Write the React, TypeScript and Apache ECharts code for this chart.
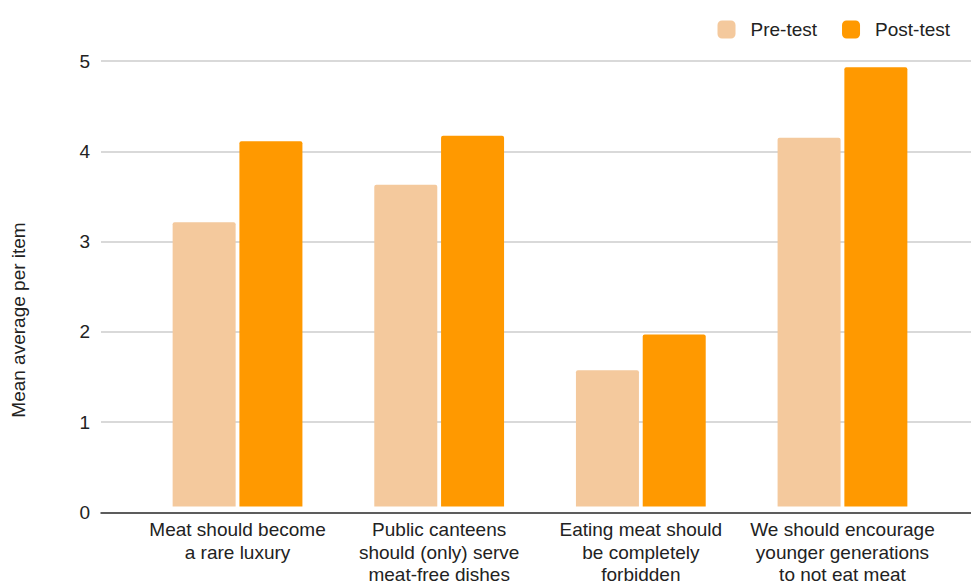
import React, { useEffect, useRef } from "react";
import * as echarts from "echarts";

const categories = [
  "Meat should become\na rare luxury",
  "Public canteens\nshould (only) serve\nmeat-free dishes",
  "Eating meat should\nbe completely\nforbidden",
  "We should encourage\nyounger generations\nto not eat meat",
];
const preTest = [3.19, 3.61, 1.53, 4.14];
const postTest = [4.1, 4.16, 1.93, 4.93];
const seriesNames = ["Pre-test", "Post-test"];
const yTicks = { min: 0, max: 5, interval: 1 };
const yAxisTitle = "Mean average per item";

const FONT = "'Liberation Sans', Arial, sans-serif";

export default function App() {
  const ref = useRef<HTMLDivElement>(null);
  useEffect(() => {
    if (!ref.current) return;
    const chart = echarts.init(ref.current, null, { renderer: "svg" });
    const top = 61;
    const bottom = 586 - 512.3;
    chart.setOption({
      animation: false,
      backgroundColor: "#ffffff",
      textStyle: { fontFamily: FONT },
      color: ["#f4c99d", "#ff9900"],
      legend: {
        data: seriesNames,
        top: 15,
        right: 16,
        itemWidth: 18,
        itemHeight: 18,
        itemGap: 25,
        icon: "roundRect",
        textStyle: {
          fontFamily: FONT,
          fontSize: 19,
          color: "#222222",
          padding: [0, 0, 0, 10],
        },
      },
      grid: [
        { left: 101, right: 0, top, bottom },
        { left: 136.7, right: 27.7, top, bottom },
      ],
      xAxis: [
        {
          gridIndex: 0,
          type: "category",
          data: ["a"],
          axisLine: { show: true, lineStyle: { color: "#333333", width: 1.5 } },
          axisTick: { show: false },
          axisLabel: { show: false },
        },
        {
          gridIndex: 1,
          type: "category",
          data: categories,
          axisLine: { show: false },
          axisTick: { show: false },
          axisLabel: {
            fontFamily: FONT,
            fontSize: 19,
            lineHeight: 22.5,
            color: "#222222",
            margin: 12,
            interval: 0,
          },
        },
      ],
      yAxis: [
        {
          gridIndex: 0,
          type: "value",
          min: yTicks.min,
          max: yTicks.max,
          interval: yTicks.interval,
          axisLine: { show: false },
          axisTick: { show: false },
          axisLabel: {
            fontFamily: FONT,
            fontSize: 19,
            color: "#222222",
            margin: 11,
          },
          splitLine: { lineStyle: { color: "#cccccc", width: 1.5 } },
        },
        {
          gridIndex: 1,
          type: "value",
          min: yTicks.min,
          max: yTicks.max,
          interval: yTicks.interval,
          show: false,
          splitLine: { show: false },
        },
      ],
      graphic: [
        {
          type: "text",
          x: 18,
          y: 320,
          rotation: Math.PI / 2,
          style: {
            text: yAxisTitle,
            fontFamily: FONT,
            fontSize: 19,
            fill: "#222222",
            align: "center",
            verticalAlign: "middle",
          },
        },
      ],
      series: [
        {
          name: seriesNames[0],
          type: "bar",
          xAxisIndex: 1,
          yAxisIndex: 1,
          data: preTest,
          barWidth: 63,
          barGap: "6%",
          itemStyle: { borderRadius: [2, 2, 0, 0] },
        },
        {
          name: seriesNames[1],
          type: "bar",
          xAxisIndex: 1,
          yAxisIndex: 1,
          data: postTest,
          barWidth: 63,
          barGap: "6%",
          itemStyle: { borderRadius: [2, 2, 0, 0] },
        },
      ],
    });
    return () => chart.dispose();
  }, []);
  return (
    <div
      ref={ref}
      style={{ position: "fixed", left: 0, top: 0, width: 971, height: 586 }}
    />
  );
}
